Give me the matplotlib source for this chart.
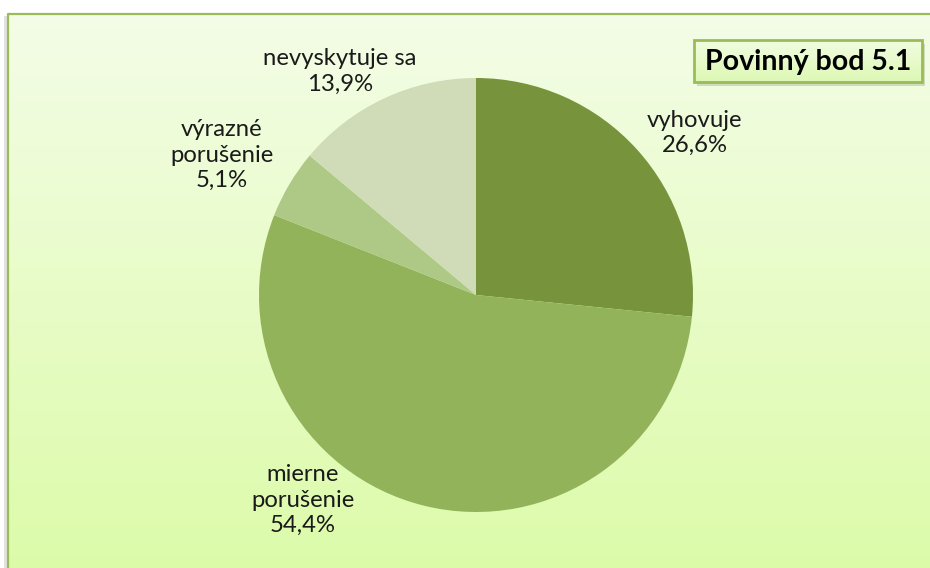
import numpy as np
import matplotlib.pyplot as plt
from matplotlib.patches import Rectangle
from matplotlib.colors import LinearSegmentedColormap

# shares of each category (percent)
categories = ['vyhovuje', 'mierne\nporušenie', 'výrazné\nporušenie', 'nevyskytuje sa']
shares = [26.6, 54.4, 5.1, 13.9]
slice_colors = ['#77933C', '#93B35A', '#AEC885', '#CFDCB7']
title = 'Povinný bod 5.1'

W, H = 930, 568
fig = plt.figure(figsize=(W / 100, H / 100), dpi=100)

# background in pixel coordinates
bg = fig.add_axes([0, 0, 1, 1])
bg.axis('off')

# chart area: vertical gradient made of thin strips
grad = LinearSegmentedColormap.from_list('g', ['#F3FCE6', '#DCFBA9'])
bg.add_patch(Rectangle((4, 16), 6, H, color='#E2E2E2', lw=0))
edges = np.linspace(14, H + 2, 140)
for i in range(len(edges) - 1):
    bg.add_patch(Rectangle((8, edges[i]), W + 10, edges[i + 1] - edges[i] + 0.5,
                           color=grad(i / (len(edges) - 2)), lw=0, zorder=1))
bg.plot([8, 8, W + 30], [H + 30, 14, 14], color='#9BBB59', lw=1.6, zorder=2)

# title box with shadow
g = np.linspace(0, 1, 256).reshape(-1, 1)
bx, by, bw, bh = 694, 40, 228, 42
bg.add_patch(Rectangle((bx + 3, by + 4), bw, bh, color='#B9C6A6', lw=0, alpha=0.6, zorder=3))
tgrad = LinearSegmentedColormap.from_list('t', ['#F1FDE0', '#DDF8B5'])
bg.imshow(g, cmap=tgrad, aspect='auto', extent=[bx, bx + bw, by + bh, by], zorder=4)
bg.add_patch(Rectangle((bx, by), bw, bh, fill=False, ec='#9BBB59', lw=2, zorder=5))
bg.text(bx + bw / 2, by + bh / 2 + 1, title, ha='center', va='center', fontsize=20.5,
        fontweight='bold', family='Lato', color='black', zorder=6)
bg.set_xlim(0, W)
bg.set_ylim(H, 0)

# pie
cx, cy, r = 476, 295, 217
ax = fig.add_axes([(cx - r) / W, (H - cy - r) / H, 2 * r / W, 2 * r / H])
ax.pie(shares, colors=slice_colors, startangle=90, counterclock=False, radius=1,
       wedgeprops=dict(linewidth=0))
ax.set_xlim(-1, 1)
ax.set_ylim(-1, 1)
ax.axis('off')

label_pos = [(1.009, 0.747), (-0.797, -0.945), (-1.171, 0.645), (-0.627, 1.032)]
for name, val, (lx, ly) in zip(categories, shares, label_pos):
    txt = name + '\n' + f'{val:.1f}'.replace('.', ',') + '%'
    ax.text(lx, ly, txt, ha='center', va='center', fontsize=17.2, family='Lato',
            color='#1a1a1a', linespacing=1.27, clip_on=False)

fig.savefig('out.png', dpi=100)
